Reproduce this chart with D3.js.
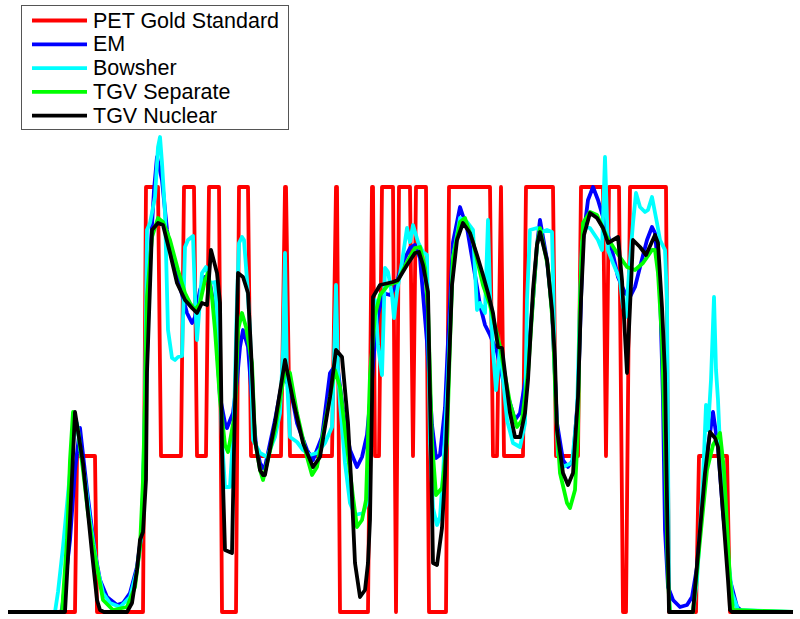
<!DOCTYPE html>
<html>
<head>
<meta charset="utf-8">
<script src="https://cdn.jsdelivr.net/npm/d3@7/dist/d3.min.js"></script>
<style>
  body { margin: 0; background: #fff; }
  svg { display: block; }
  .legend text { font-family: "Liberation Sans", Arial, sans-serif; font-size: 21.5px; fill: #000; }
  .profile { fill: none; stroke-width: 3.8; stroke-linejoin: round; stroke-linecap: butt; }
</style>
</head>
<body>
<svg id="profile-chart" width="800" height="619"></svg>
<script>
// profile position vs. activity
const legendLabels = ['PET Gold Standard', 'EM', 'Bowsher', 'TGV Separate', 'TGV Nuclear'];

// gold standard is piecewise constant: [from, to, level]
const petSegments = [
  [8,75,0],[77,95,156],[97,143,0],[146,158,425],[161,181,156],[184,194,425],[197,206,156],
  [209,219,425],[222,236,0],[239,248,425],[251,281,156],[285,286,425],[290,332,156],
  [336,337,425],[340,368,0],[372,373,425],[375,379,156],[382,393,425],[396,396,0],
  [399,410,425],[413,413,156],[416,426,425],[429,446,0],[449,490,425],[493,497,156],
  [501,501,425],[504,523,156],[526,553,425],[556,578,156],[581,603,425],[606,606,156],
  [609,619,425],[623,626,0],[630,666,425],[669,696,0],[699,727,156],[730,793,0]
];

const emProfile = [
  [8,0],[60,0],[62,2],[70,72],[75,142],[80,184],[87,122],[95,59],[100,32],[107,15],[117,7],
  [123,9],[130,19],[137,45],[142,82],[145,192],[150,352],[154,422],[157,455],[162,432],
  [167,382],[173,349],[180,325],[187,299],[192,289],[195,295],[200,322],[205,335],[210,329],
  [215,299],[220,215],[225,189],[227,184],[233,199],[237,232],[240,265],[243,282],[248,265],
  [252,212],[256,167],[260,149],[263,144],[265,145],[275,192],[283,235],[290,225],[297,189],
  [307,162],[313,152],[322,175],[330,239],[337,249],[343,202],[350,162],[357,145],[362,155],
  [367,177],[372,232],[375,272],[378,297],[383,319],[390,317],[395,324],[403,350],[410,364],
  [415,367],[420,354],[427,270],[432,187],[436,154],[440,157],[445,204],[448,270],[453,370],
  [460,405],[467,384],[475,337],[480,307],[485,287],[490,277],[497,260],[503,232],[510,209],
  [515,192],[520,199],[527,242],[533,312],[537,367],[540,392],[547,352],[552,302],[557,189],
  [563,152],[568,145],[573,152],[578,215],[581,312],[583,372],[588,412],[593,425],[598,412],
  [603,395],[612,362],[618,335],[625,319],[630,315],[635,325],[640,345],[647,372],[652,385],
  [655,379],[660,322],[663,212],[665,82],[668,25],[673,12],[680,5],[687,7],[692,15],[697,45],
  [703,115],[708,165],[713,200],[718,165],[723,99],[730,32],[737,5],[743,0],[793,0]
];

const bowsherProfile = [
  [8,0],[55,0],[58,20],[63,65],[70,139],[74,177],[77,189],[80,165],[85,132],[90,92],[97,45],
  [103,19],[110,9],[120,5],[130,15],[137,42],[142,82],[145,212],[147,382],[150,389],[155,415],
  [158,465],[160,475],[162,449],[165,399],[168,282],[172,254],[175,252],[178,255],[182,256],
  [185,365],[188,372],[193,376],[195,315],[197,272],[202,339],[206,345],[210,329],[215,330],
  [219,262],[222,172],[225,125],[230,125],[234,192],[237,312],[239,369],[242,375],[244,372],
  [247,332],[250,282],[253,172],[260,159],[267,155],[275,175],[280,199],[283,262],[285,359],
  [287,232],[290,175],[297,170],[303,162],[310,157],[317,159],[325,169],[332,185],[334,252],
  [336,327],[338,242],[340,209],[345,149],[350,109],[355,97],[363,99],[367,109],[370,204],
  [372,262],[375,312],[378,267],[382,237],[385,344],[388,340],[392,317],[394,294],[397,320],
  [402,350],[407,384],[410,370],[413,387],[418,370],[423,360],[427,357],[430,170],[433,104],
  [437,87],[440,95],[443,137],[448,237],[453,354],[460,394],[467,390],[473,382],[477,302],
  [480,309],[485,299],[488,392],[490,319],[493,262],[496,222],[498,242],[500,265],[507,192],
  [513,169],[520,165],[525,189],[527,312],[530,382],[537,384],[542,380],[547,382],[552,380],
  [553,339],[555,232],[558,157],[563,145],[567,147],[572,149],[577,199],[580,312],[582,369],
  [585,385],[590,384],[598,372],[602,362],[605,455],[608,362],[613,349],[620,332],[623,305],
  [626,295],[629,339],[633,389],[636,419],[640,405],[645,400],[648,402],[652,415],[657,389],
  [660,372],[665,362],[667,312],[669,12],[670,0],[693,0],[697,32],[703,132],[706,207],
  [708,182],[711,232],[714,315],[716,242],[718,212],[720,165],[725,82],[732,19],[738,2],[793,0]
];

const tgvSeparateProfile = [
  [8,0],[62,0],[67,72],[70,152],[73,200],[78,182],[83,142],[88,99],[93,67],[97,45],[103,12],
  [113,2],[127,5],[135,25],[140,65],[143,132],[145,212],[147,315],[152,375],[158,394],[163,390],
  [170,372],[178,342],[185,319],[190,309],[195,302],[200,309],[205,332],[208,339],[212,315],
  [215,282],[220,212],[225,167],[228,160],[235,199],[238,282],[242,299],[246,285],[252,249],
  [255,172],[260,142],[263,132],[275,182],[285,242],[290,239],[297,199],[307,155],[312,137],
  [317,145],[325,189],[335,242],[340,225],[347,165],[353,115],[357,85],[362,92],[366,112],
  [370,237],[375,297],[380,317],[388,327],[397,330],[407,350],[415,364],[420,365],[425,344],
  [428,304],[432,170],[436,117],[442,124],[447,170],[450,270],[453,354],[460,390],[465,394],
  [473,370],[483,327],[490,307],[500,265],[510,209],[517,185],[522,192],[528,239],[533,312],
  [537,367],[540,384],[548,345],[553,285],[556,199],[560,139],[567,109],[570,104],[575,122],
  [578,182],[580,312],[583,389],[590,400],[597,397],[607,375],[617,359],[627,345],[635,342],
  [643,349],[652,362],[655,362],[658,339],[662,272],[665,162],[668,32],[670,0],[693,0],
  [700,72],[707,142],[713,167],[720,179],[724,142],[730,32],[733,2],[793,0]
];

const tgvNuclearProfile = [
  [8,0],[65,0],[70,92],[75,200],[83,149],[92,59],[97,12],[100,2],[104,0],[127,0],[132,9],
  [137,42],[140,72],[143,80],[146,132],[147,240],[152,382],[158,389],[163,387],[170,359],
  [177,329],[185,312],[192,304],[197,299],[202,309],[207,307],[211,362],[217,339],[220,309],
  [222,162],[225,62],[232,59],[234,162],[238,339],[243,335],[248,319],[251,262],[255,172],
  [260,142],[263,137],[265,137],[275,189],[285,252],[293,212],[303,169],[313,145],[320,155],
  [330,215],[336,262],[342,255],[348,189],[352,115],[355,49],[360,15],[365,22],[368,49],
  [370,92],[372,212],[373,315],[380,327],[393,330],[398,332],[407,347],[415,359],[419,360],
  [423,347],[428,320],[431,162],[433,49],[437,47],[442,84],[445,137],[448,220],[452,327],
  [457,372],[463,389],[470,379],[477,357],[483,337],[488,319],[493,299],[498,265],[502,264],
  [505,239],[510,199],[515,175],[520,175],[525,199],[528,232],[533,322],[537,367],[540,380],
  [547,352],[552,302],[555,252],[557,182],[563,139],[568,127],[573,139],[578,215],[581,312],
  [584,377],[590,399],[597,394],[603,384],[608,369],[613,372],[618,375],[622,332],[627,239],
  [630,305],[633,372],[640,365],[646,357],[655,377],[658,369],[662,305],[665,239],[667,112],
  [669,0],[693,0],[700,82],[705,139],[710,180],[715,174],[718,165],[723,99],[728,32],[730,2],
  [732,0],[793,0]
];

const seriesColors = ['#ff0000', '#0000ff', '#00ffff', '#00ff00', '#000000'];

const width = 800;
const height = 619;

const svg = d3.select('#profile-chart');

const xScale = d3.scaleLinear()
    .domain([8, 793])
    .range([8, 793]);

const yScale = d3.scaleLinear()
    .domain([0, 425])
    .range([612, 187]);

const line = d3.line()
    .x(d => xScale(d[0]))
    .y(d => yScale(d[1]));

function drawChart(profiles) {
    svg.selectAll('.profile')
        .data(profiles)
        .enter()
        .append('path')
        .attr('class', 'profile')
        .attr('stroke', (d, i) => seriesColors[i])
        .attr('d', d => line(d));
}

const petProfile = petSegments.flatMap(([from, to, level]) => [[from, level], [to, level]]);
drawChart([petProfile, emProfile, bowsherProfile, tgvSeparateProfile, tgvNuclearProfile]);

// legend
const legend = svg.append('g').attr('class', 'legend');
legend.append('rect')
    .attr('x', 21.5)
    .attr('y', 5.5)
    .attr('width', 267)
    .attr('height', 124)
    .attr('fill', '#fff')
    .attr('stroke', '#555')
    .attr('stroke-width', 1);

const rows = legend.selectAll('.row')
    .data(legendLabels)
    .enter()
    .append('g')
    .attr('class', 'row')
    .attr('transform', (d, i) => `translate(0, ${20.5 + i * 23.8})`);

rows.append('line')
    .attr('x1', 32).attr('x2', 87)
    .attr('stroke', (d, i) => seriesColors[i])
    .attr('stroke-width', 3.8);

rows.append('text')
    .attr('x', 93)
    .attr('y', 7)
    .text(d => d);
</script>
</body>
</html>
